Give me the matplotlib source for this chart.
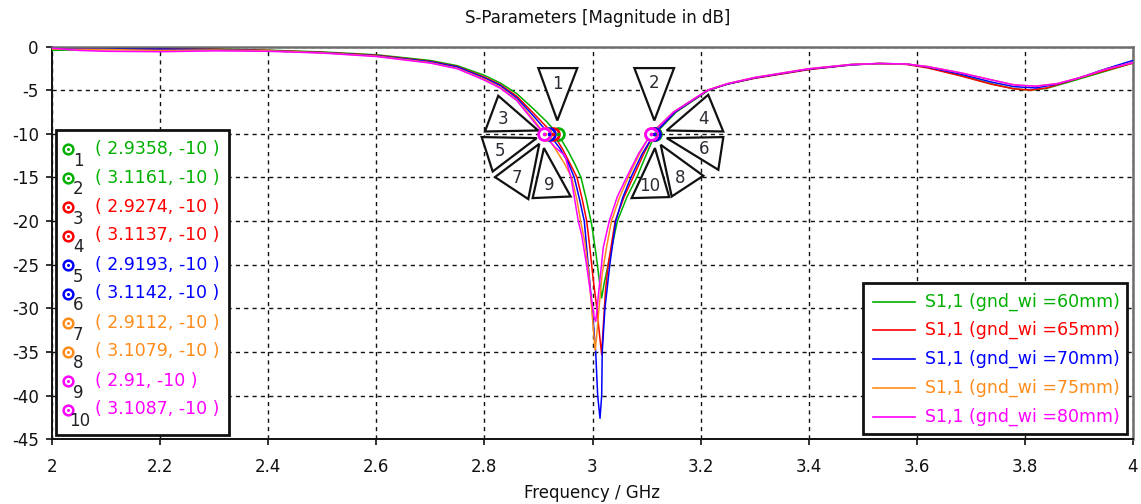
import matplotlib
matplotlib.use('Agg')
import matplotlib.pyplot as plt
from matplotlib.patches import Polygon, Rectangle
from matplotlib.lines import Line2D
from matplotlib.transforms import IdentityTransform
from matplotlib.ticker import FuncFormatter

plt.rcParams['font.family'] = ['DejaVu Sans']
plt.rcParams['axes.unicode_minus'] = False

# ---------------- data ----------------
freq_60 = [2.00, 2.10, 2.20, 2.30, 2.40, 2.50, 2.60, 2.70, 2.75, 2.80, 2.83, 2.86, 2.89, 2.915,
           2.9358, 2.955, 2.9676, 2.9787, 2.9885, 2.9985, 3.007, 3.013, 3.017, 3.022, 3.029,
           3.046, 3.064, 3.082, 3.098, 3.1161, 3.155, 3.215, 3.25, 3.30, 3.40, 3.48, 3.53, 3.58,
           3.62, 3.68, 3.74, 3.78, 3.81, 3.84, 3.88, 3.94, 4.00]
s11_60 = [-0.45, -0.3, -0.25, -0.3, -0.42, -0.62, -0.95, -1.6, -2.2, -3.3, -4.2, -5.4, -7.1, -8.6,
          -10, -12.0, -13.5, -15, -17.5, -20.4, -24, -27, -28.8, -27, -25,
          -20, -17.2, -15, -12.6, -10, -7.5, -5, -4.3, -3.6, -2.6, -2.05, -1.95, -2.0,
          -2.4, -3.3, -4.3, -4.85, -5.0, -4.8, -4.1, -3.0, -1.9]

freq_65 = [2.00, 2.10, 2.20, 2.30, 2.40, 2.50, 2.60, 2.70, 2.75, 2.80, 2.83, 2.86, 2.89, 2.91,
           2.9274, 2.945, 2.96, 2.9713, 2.981, 2.9893, 2.995, 3.001, 3.008, 3.013, 3.017, 3.02,
           3.024, 3.029, 3.042, 3.058, 3.075, 3.094, 3.1137, 3.153, 3.214, 3.25, 3.30, 3.40,
           3.48, 3.53, 3.58, 3.62, 3.68, 3.74, 3.78, 3.81, 3.84, 3.88, 3.94, 4.00]
s11_65 = [-0.3, -0.35, -0.3, -0.32, -0.45, -0.68, -1.0, -1.7, -2.3, -3.5, -4.4, -5.7, -7.6, -8.9,
          -10, -11.8, -13.6, -15, -17.5, -20, -23, -26.5, -30, -33, -35.3, -32,
          -28, -25, -20, -17.3, -15, -12.4, -10, -7.5, -5, -4.3, -3.65, -2.65,
          -2.1, -1.95, -2.05, -2.45, -3.35, -4.35, -4.85, -5.0, -4.75, -4.0, -2.9, -1.9]

freq_70 = [2.00, 2.10, 2.20, 2.30, 2.40, 2.50, 2.60, 2.70, 2.75, 2.80, 2.83, 2.86, 2.89,
           2.9193, 2.94, 2.955, 2.9663, 2.976, 2.9848, 2.992, 2.9994, 3.0059, 3.0096, 3.0139,
           3.017, 3.018, 3.023, 3.032, 3.043, 3.056, 3.071, 3.091, 3.1142, 3.153, 3.214, 3.25,
           3.30, 3.40, 3.48, 3.53, 3.58, 3.62, 3.68, 3.74, 3.78, 3.82, 3.86, 3.90, 3.95, 4.00]
s11_70 = [-0.25, -0.3, -0.3, -0.35, -0.5, -0.7, -1.05, -1.75, -2.35, -3.6, -4.5, -5.9, -7.9,
          -10, -11.7, -13.3, -15, -17.5, -20, -25, -30, -35, -40, -42.6,
          -40, -35, -30, -25, -20, -17.3, -15, -12.4, -10, -7.5, -5, -4.3,
          -3.6, -2.6, -2.1, -1.95, -2.0, -2.35, -3.15, -4.1, -4.6, -4.75, -4.3, -3.6, -2.55, -1.6]

freq_75 = [2.00, 2.10, 2.20, 2.30, 2.40, 2.50, 2.60, 2.70, 2.75, 2.80, 2.83, 2.86, 2.89,
           2.9112, 2.93, 2.948, 2.9615, 2.971, 2.978, 2.986, 2.993, 2.9985, 3.003, 3.005,
           3.008, 3.012, 3.018, 3.026, 3.035, 3.05, 3.066, 3.087, 3.1079, 3.15, 3.213, 3.25,
           3.30, 3.40, 3.48, 3.53, 3.58, 3.62, 3.68, 3.74, 3.78, 3.82, 3.86, 3.90, 3.95, 4.00]
s11_75 = [-0.3, -0.35, -0.45, -0.4, -0.5, -0.72, -1.1, -1.85, -2.5, -3.75, -4.7, -6.1, -8.3,
          -10, -11.6, -13.4, -15, -17.5, -20, -22.5, -26, -30, -33.5, -34.8,
          -33, -30, -26, -23, -20, -17.3, -15, -12.3, -10, -7.5, -5, -4.25,
          -3.55, -2.55, -2.05, -1.95, -2.0, -2.3, -3.0, -3.85, -4.4, -4.55, -4.25, -3.6, -2.6, -1.85]

freq_80 = [2.00, 2.05, 2.10, 2.20, 2.30, 2.40, 2.50, 2.60, 2.70, 2.75, 2.80, 2.83, 2.86, 2.89,
           2.91, 2.93, 2.949, 2.9602, 2.967, 2.9737, 2.98, 2.989, 2.997, 3.003, 3.006, 3.01,
           3.015, 3.02, 3.031, 3.046, 3.063, 3.085, 3.1087, 3.15, 3.213, 3.25, 3.30, 3.40,
           3.48, 3.53, 3.58, 3.62, 3.68, 3.74, 3.78, 3.82, 3.86, 3.90, 3.95, 4.00]
s11_80 = [-0.2, -0.45, -0.55, -0.6, -0.5, -0.55, -0.75, -1.15, -1.9, -2.55, -3.85, -4.8, -6.2, -8.5,
          -10, -11.5, -12.5, -15, -17.5, -20, -21.6, -25, -28.5, -31, -31.5, -29,
          -26, -23, -20, -17.2, -15, -12.3, -10, -7.5, -5, -4.25, -3.55, -2.55,
          -2.05, -1.95, -2.0, -2.3, -3.0, -3.85, -4.4, -4.55, -4.25, -3.6, -2.6, -1.85]

series_freqs = [freq_60, freq_65, freq_70, freq_75, freq_80]
series_values = [s11_60, s11_65, s11_70, s11_75, s11_80]
series_labels = ['S1,1 (gnd_wi =60mm)', 'S1,1 (gnd_wi =65mm)', 'S1,1 (gnd_wi =70mm)',
                 'S1,1 (gnd_wi =75mm)', 'S1,1 (gnd_wi =80mm)']
series_colors = ['#00b000', '#ff0000', '#0000ff', '#ff8c1a', '#ff00ff']

marker_ids = [1, 2, 3, 4, 5, 6, 7, 8, 9, 10]
marker_freqs = [2.9358, 3.1161, 2.9274, 3.1137, 2.9193, 3.1142, 2.9112, 3.1079, 2.91, 3.1087]
marker_levels = [-10, -10, -10, -10, -10, -10, -10, -10, -10, -10]
marker_series = [0, 0, 1, 1, 2, 2, 3, 3, 4, 4]

x_ticks = [2, 2.2, 2.4, 2.6, 2.8, 3, 3.2, 3.4, 3.6, 3.8, 4]
y_ticks = [0, -5, -10, -15, -20, -25, -30, -35, -40, -45]

# ---------------- layout ----------------
W, H = 1141, 504
fig = plt.figure(figsize=(W / 100, H / 100), dpi=100)
fig.patch.set_facecolor('white')


def fx(px):
    return px / W


def fy(py):
    return 1 - py / H


ax_l, ax_r, ax_t, ax_b = 52, 1133, 46.5, 439.3
ax = fig.add_axes([fx(ax_l), fy(ax_b), (ax_r - ax_l) / W, (ax_b - ax_t) / H])
ax.set_xlim(2, 4)
ax.set_ylim(-45, 0)
ax.set_xticks(x_ticks)
ax.set_yticks(y_ticks)
ax.xaxis.set_major_formatter(FuncFormatter(lambda v, p: f'{v:g}'))
ax.yaxis.set_major_formatter(FuncFormatter(lambda v, p: f'{v:g}'))
ax.tick_params(axis='both', which='major', labelsize=12, colors='#111111',
               length=4.5, width=1.2, direction='out', pad=5)
ax.tick_params(axis='x', pad=9)
ax.grid(True, color='#111111', linestyle=(0, (3, 3)), linewidth=1.0)
for s in ['left', 'bottom']:
    ax.spines[s].set_color('#111111')
    ax.spines[s].set_linewidth(1.4)
for s in ['top', 'right']:
    ax.spines[s].set_color('#6e6e6e')
    ax.spines[s].set_linewidth(1.8)

for f, v, c in zip(series_freqs, series_values, series_colors):
    ax.plot(f, v, color=c, linewidth=1.1, zorder=3)

for mf, ml, ms in zip(marker_freqs, marker_levels, marker_series):
    c = series_colors[ms]
    ax.plot([mf], [ml], marker='o', ms=8.5, mfc='white', mec=c, mew=2.0, zorder=5)
    ax.plot([mf], [ml], marker='o', ms=2.6, mfc=c, mec=c, mew=0, zorder=6)

ax.set_title('S-Parameters [Magnitude in dB]', fontsize=12, color='#111111',
             x=0.505, y=1 + (ax_t - 18) / (ax_b - ax_t), va='center', pad=0)
ax.set_xlabel('Frequency / GHz', fontsize=12, color='#111111')
ax.xaxis.set_label_coords(0.5, -(493 - ax_b) / (ax_b - ax_t))
ax.xaxis.label.set_va('center')

# ---------------- marker callout triangles (pixel offsets from each marker) ----------------
tri_shapes = {
    1: ([(-19.5, -65.7), (19.5, -65.7), (-0.5, -13.3)], (-0.8, -50)),
    2: ([(-20.9, -65.7), (18.8, -65.7), (-0.9, -13.3)], (-1.0, -51)),
    3: ([(-55, -38), (-68.3, -2.3), (-15, -3.3)], (-50, -14.7)),
    4: ([(12.7, -3.3), (54.3, -39), (69.3, -2.3)], (49.3, -14.7)),
    5: ([(-67.2, 3.3), (-12.2, 4.3), (-56.2, 37.7)], (-49, 17.7)),
    6: ([(12.5, 4.3), (69.1, 3.3), (64.1, 36)], (50.1, 15.3)),
    7: ([(-49.5, 43.3), (-5.2, 10), (-16.2, 65.3)], (-27.8, 44.3)),
    8: ([(9.9, 11), (52.5, 42), (20.9, 62.7)], (29.2, 44.3)),
    9: ([(0.1, 14.3), (-11.2, 64.3), (26.8, 62.7)], (5.4, 51)),
    10: ([(3.7, 14.3), (-19.6, 64.3), (18, 63.3)], (-1.3, 52)),
}
for mid, mf, ml in zip(marker_ids, marker_freqs, marker_levels):
    px, py = ax.transData.transform((mf, ml))
    verts, lab = tri_shapes[mid]
    pts = [(px + dx, py - dy) for dx, dy in verts]
    poly = Polygon(pts, closed=True, facecolor='white', edgecolor='#111111', linewidth=1.6,
                   joinstyle='miter', transform=IdentityTransform(), zorder=4)
    fig.add_artist(poly)
    fig.text((px + lab[0]) / W, (py - lab[1]) / H, str(mid), fontsize=12, color='#2b2b33',
             ha='center', va='center', zorder=5)

# ---------------- marker legend (left box) ----------------
fig.add_artist(Rectangle((fx(56), fy(435)), (229 - 56) / W, (435 - 130) / H, transform=fig.transFigure,
                         facecolor='white', edgecolor='#111111', linewidth=2.0, zorder=1))
for i, (mid, mf, ml, ms) in enumerate(zip(marker_ids, marker_freqs, marker_levels, marker_series)):
    c = series_colors[ms]
    yy = 148.5 + 29.0 * i
    fig.add_artist(Line2D([fx(68)], [fy(yy)], transform=fig.transFigure, marker='o', ms=7,
                          mfc='white', mec=c, mew=1.8, zorder=2))
    fig.add_artist(Line2D([fx(68)], [fy(yy)], transform=fig.transFigure, marker='o', ms=2.2,
                          mfc=c, mec=c, mew=0, zorder=2))
    fig.text(fx(66 + (3.5 if mid >= 10 else 7)), fy(yy + 12), str(mid), fontsize=12,
             color='#222228', ha='left', va='center', zorder=3)
    fig.text(fx(95), fy(yy), f'( {mf:g}, {ml:g} )', fontsize=12.5, color=c,
             ha='left', va='center', zorder=3)

# ---------------- curve legend (right box) ----------------
fig.add_artist(Rectangle((fx(863), fy(434)), (1127 - 863) / W, (434 - 283) / H, transform=fig.transFigure,
                         facecolor='white', edgecolor='#111111', linewidth=2.0, zorder=1))
for i, (lab, c) in enumerate(zip(series_labels, series_colors)):
    yy = 301.5 + 28.75 * i
    fig.add_artist(Line2D([fx(872.5), fx(915)], [fy(yy), fy(yy)], transform=fig.transFigure,
                          color=c, linewidth=1.2, zorder=2))
    fig.text(fx(925), fy(yy), lab, fontsize=12.5, color=c, ha='left', va='center', zorder=3)

fig.savefig('out.png', dpi=100)
